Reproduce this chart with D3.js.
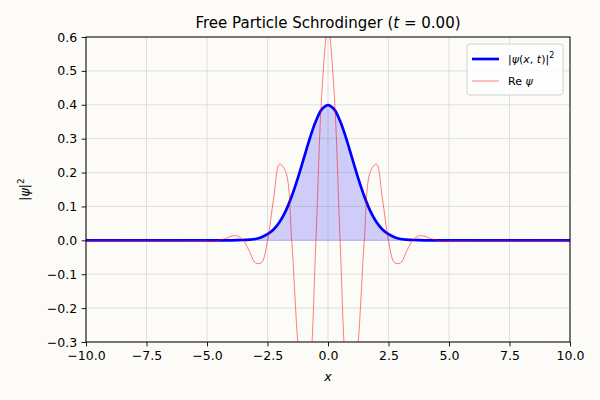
<!DOCTYPE html>
<html>
<head>
<meta charset="utf-8">
<script src="https://cdn.jsdelivr.net/npm/d3@7"></script>
<style>
  body { margin: 0; background: #fcfbf7; }
  svg text { font-family: "DejaVu Sans", sans-serif; fill: #000; }
</style>
</head>
<body>
<svg id="chart" width="600" height="400"></svg>
<script>
// sample positions along x (dense where the packet is)
const xs = [-10, -5, -4.75, -4.5, -4.25, -4, -3.75, -3.5, -3.25, -3, -2.75, -2.5, -2.25, -2, -1.75, -1.5, -1.25, -1, -0.75, -0.5, -0.25,
  0, 0.25, 0.5, 0.75, 1, 1.25, 1.5, 1.75, 2, 2.25, 2.5, 2.75, 3, 3.25, 3.5, 3.75, 4, 4.25, 4.5, 4.75, 5, 10];
// |psi(x,t)|^2
const probDensity = [0, 0, 0, 0, 0, 0.0001, 0.0004, 0.001, 0.002, 0.004, 0.009, 0.018, 0.032, 0.054, 0.086, 0.130, 0.183, 0.242, 0.301, 0.352, 0.387,
  0.399, 0.387, 0.352, 0.301, 0.242, 0.183, 0.130, 0.086, 0.054, 0.032, 0.018, 0.009, 0.004, 0.002, 0.001, 0.0004, 0.0001, 0, 0, 0, 0, 0];
// Re psi
const rePsi = [0, -0.001, -0.002, 0, 0.005, 0.012, 0.013, 0, -0.032, -0.066, -0.066, 0, 0.122, 0.225, 0.203, 0, -0.302, -0.492, -0.388, 0, 0.440,
  0.632, 0.440, 0, -0.388, -0.492, -0.302, 0, 0.203, 0.225, 0.122, 0, -0.066, -0.066, -0.032, 0, 0.013, 0.012, 0.005, 0, -0.002, -0.001, 0];
const xTicks = [-10, -7.5, -5, -2.5, 0, 2.5, 5, 7.5, 10];
const yTicks = [-0.3, -0.2, -0.1, 0, 0.1, 0.2, 0.3, 0.4, 0.5, 0.6];

const w = 600, h = 400;
const margin = {top: 37, right: 30, bottom: 58, left: 86};
const fontPx = 12.5;

const svg = d3.select('#chart');
svg.append('rect').attr('width', w).attr('height', h).attr('fill', '#fcfbf7');

const xScale = d3.scaleLinear().domain([-10, 10]).range([margin.left, w - margin.right]);
const yScale = d3.scaleLinear().domain([-0.3, 0.6]).range([h - margin.bottom, margin.top]);

const pts = xs.map((x, i) => ({x: x, p: probDensity[i], re: rePsi[i]}));

svg.append('clipPath').attr('id', 'plotclip').append('rect')
  .attr('x', margin.left).attr('y', margin.top)
  .attr('width', w - margin.left - margin.right).attr('height', h - margin.top - margin.bottom);

// grid
const grid = svg.append('g').attr('stroke', '#b0b0b0').attr('stroke-opacity', 0.45).attr('stroke-width', 0.8);
grid.selectAll('.gx').data(xTicks).enter().append('line')
  .attr('x1', d => xScale(d)).attr('x2', d => xScale(d))
  .attr('y1', margin.top).attr('y2', h - margin.bottom);
grid.selectAll('.gy').data(yTicks).enter().append('line')
  .attr('y1', d => yScale(d)).attr('y2', d => yScale(d))
  .attr('x1', margin.left).attr('x2', w - margin.right);

const plot = svg.append('g').attr('clip-path', 'url(#plotclip)');

// shaded area under |psi|^2
const area = d3.area().x(d => xScale(d.x)).y0(yScale(0)).y1(d => yScale(d.p)).curve(d3.curveCatmullRom);
plot.append('path').datum(pts).attr('d', area)
  .attr('fill', 'blue').attr('fill-opacity', 0.18)
  .attr('stroke', 'blue').attr('stroke-opacity', 0.18).attr('stroke-width', 1);

const probLine = d3.line().x(d => xScale(d.x)).y(d => yScale(d.p)).curve(d3.curveCatmullRom);
plot.append('path').datum(pts).attr('d', probLine)
  .attr('fill', 'none').attr('stroke', 'blue').attr('stroke-width', 2.7);

const reLine = d3.line().x(d => xScale(d.x)).y(d => yScale(d.re)).curve(d3.curveCatmullRom);
plot.append('path').datum(pts).attr('d', reLine)
  .attr('fill', 'none').attr('stroke', 'red').attr('stroke-opacity', 0.5).attr('stroke-width', 1);

// axes
const fmt = d => d3.format('.1f')(d).replace('-', '\u2212');
const xAxis = d3.axisBottom(xScale).tickValues(xTicks).tickFormat(fmt).tickSizeInner(4.4).tickSizeOuter(0).tickPadding(4.4);
const yAxis = d3.axisLeft(yScale).tickValues(yTicks).tickFormat(fmt).tickSizeInner(4.4).tickSizeOuter(0).tickPadding(4.4);
const gx = svg.append('g').attr('transform', 'translate(0,' + (h - margin.bottom) + ')').call(xAxis);
const gy = svg.append('g').attr('transform', 'translate(' + margin.left + ',0)').call(yAxis);
[gx, gy].forEach(g => {
  g.select('.domain').remove();
  g.selectAll('line').attr('stroke', '#000').attr('stroke-width', 0.9);
  g.selectAll('text').attr('font-size', fontPx).attr('font-family', '"DejaVu Sans", sans-serif');
});

// frame
svg.append('rect').attr('x', margin.left).attr('y', margin.top)
  .attr('width', w - margin.left - margin.right).attr('height', h - margin.top - margin.bottom)
  .attr('fill', 'none').attr('stroke', '#000').attr('stroke-width', 1);

// title
const title = svg.append('text').attr('x', (margin.left + w - margin.right) / 2).attr('y', 28)
  .attr('text-anchor', 'middle').attr('font-size', 15);
title.append('tspan').text('Free Particle Schrodinger (');
title.append('tspan').attr('font-style', 'italic').text('t');
title.append('tspan').text(' = 0.00)');

// axis labels
svg.append('text').attr('x', (margin.left + w - margin.right) / 2).attr('y', 381)
  .attr('text-anchor', 'middle').attr('font-size', fontPx).attr('font-style', 'italic').text('x');
const ylab = svg.append('text').attr('transform', 'translate(29,' + ((margin.top + h - margin.bottom) / 2) + ') rotate(-90)')
  .attr('text-anchor', 'middle').attr('font-size', fontPx);
ylab.append('tspan').text('|');
ylab.append('tspan').attr('font-style', 'italic').text('\u03c8');
ylab.append('tspan').text('|');
ylab.append('tspan').attr('font-size', fontPx * 0.7).attr('dy', -5).text('2');

// legend
const lg = svg.append('g').attr('transform', 'translate(467,44)');
lg.append('rect').attr('width', 96).attr('height', 51).attr('rx', 3)
  .attr('fill', '#fff').attr('fill-opacity', 0.8).attr('stroke', '#d0d0d0').attr('stroke-width', 1);
lg.append('line').attr('x1', 5).attr('x2', 32).attr('y1', 15).attr('y2', 15)
  .attr('stroke', 'blue').attr('stroke-width', 2.7);
lg.append('line').attr('x1', 5).attr('x2', 32).attr('y1', 37).attr('y2', 37)
  .attr('stroke', 'red').attr('stroke-opacity', 0.5).attr('stroke-width', 1);
const l1 = lg.append('text').attr('x', 41).attr('y', 19).attr('font-size', 11);
l1.append('tspan').text('|');
l1.append('tspan').attr('font-style', 'italic').text('\u03c8');
l1.append('tspan').text('(');
l1.append('tspan').attr('font-style', 'italic').text('x');
l1.append('tspan').text(', ');
l1.append('tspan').attr('font-style', 'italic').text('t');
l1.append('tspan').text(')|');
l1.append('tspan').attr('font-size', 8).attr('dy', -5).text('2');
const l2 = lg.append('text').attr('x', 41).attr('y', 41).attr('font-size', 11);
l2.append('tspan').text('Re ');
l2.append('tspan').attr('font-style', 'italic').text('\u03c8');
</script>
</body>
</html>
